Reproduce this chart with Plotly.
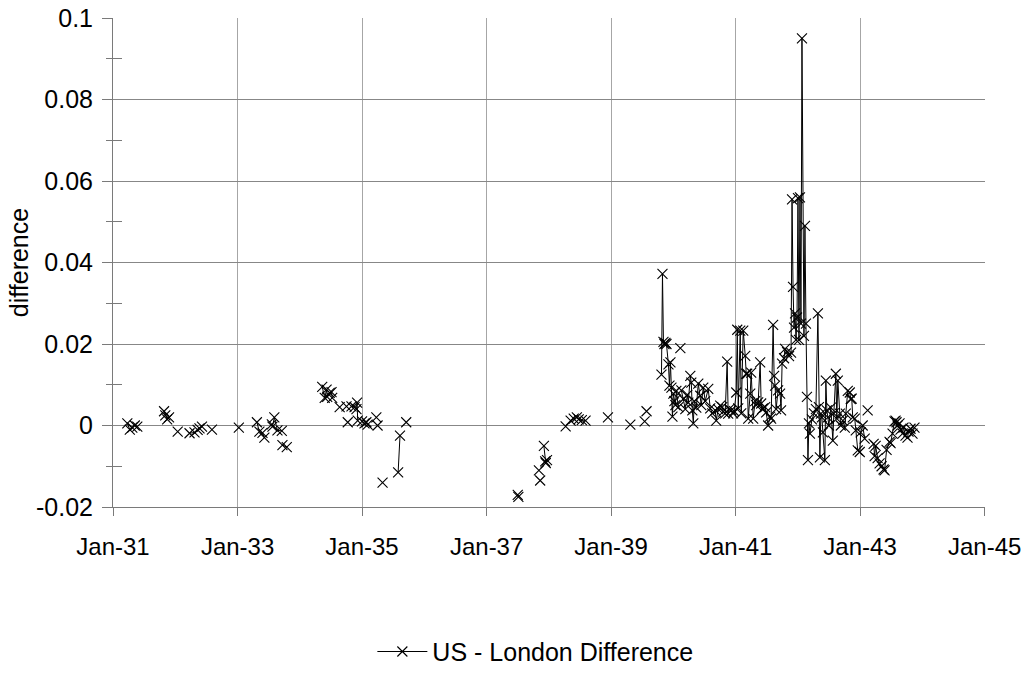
import datetime as dt
import plotly.graph_objects as go

# ---- data (decimal years, difference); None breaks the line ----
early_year = [1931.23, 1931.27, 1931.31, 1931.35, 1931.39, 1931.60,
              1931.82, 1931.84, 1931.87, 1931.90, 1931.97,
              1932.04, 1932.12,
              1932.23, 1932.31, 1932.36, 1932.39, 1932.43, 1932.51,
              1932.59, 1932.80, 1933.02, 1933.15,
              1933.31, 1933.35, 1933.40, 1933.43, 1933.50,
              1933.55, 1933.56, 1933.59, 1933.64, 1933.71, 1933.715,
              1933.72, 1933.79, 1934.00,
              1934.36, 1934.40, 1934.43, 1934.44, 1934.48, 1934.51, 1934.52, 1934.58,
              1934.64, 1934.70, 1934.75, 1934.76, 1934.77, 1934.80,
              1934.83, 1934.88, 1934.91, 1934.92, 1934.93, 1934.96,
              1935.00, 1935.04, 1935.07, 1935.09, 1935.16,
              1935.23, 1935.24, 1935.25, 1935.29, 1935.33, 1935.45,
              1935.58, 1935.61, 1935.66, 1935.71, 1936.50]
early_diff = [0.0005, -0.0010, -0.0005, 0.0000, -0.0003, None,
              0.0035, 0.0025, 0.0015, 0.0020, None,
              -0.0015, None,
              -0.0019, -0.0017, -0.0011, -0.0007, -0.0003, None,
              -0.0010, None, -0.0005, None,
              0.0008, -0.0015, -0.0018, -0.0030, None,
              0.0003, -0.0003, 0.0020, -0.0012, -0.0013, None,
              -0.0048, -0.0053, None,
              0.0095, 0.0068, 0.0088, 0.0070, 0.0080, 0.0082, 0.0068, None,
              0.0045, None, 0.0047, None, 0.0008, None,
              0.0047, 0.0045, 0.0040, 0.0056, 0.0012, None,
              0.0010, 0.0005, 0.0008, 0.0002, None,
              0.0020, None, 0.0000, None, -0.0140, None,
              -0.0115, -0.0025, None, 0.0008, None]

mid_year = [1937.50, 1937.51, 1937.70,
            1937.84, 1937.85, 1937.86, 1937.89,
            1937.92, 1937.94, 1937.95, 1937.97, 1938.10,
            1938.27, 1938.31,
            1938.35, 1938.40, 1938.45, 1938.48, 1938.53, 1938.59, 1938.75,
            1938.95, 1939.10, 1939.31, 1939.45,
            1939.54, 1939.555, 1939.57, 1939.70]
mid_diff = [-0.0170, -0.0175, None,
            -0.0110, None, -0.0135, None,
            -0.0050, -0.0088, -0.0092, -0.0085, None,
            -0.0002, None,
            0.0012, 0.0017, 0.0020, 0.0015, 0.0013, 0.0012, None,
            0.0020, None, 0.0002, None,
            0.0010, None, 0.0035, None]

late_year = [1939.810, 1939.826, 1939.842, 1939.858, 1939.874, 1939.890,
             1939.922, 1939.938, 1939.954, 1939.970, 1939.986, 1940.002,
             1940.018, 1940.034, 1940.050, 1940.082, 1940.098, 1940.114,
             1940.122, 1940.130, 1940.162, 1940.194, 1940.226, 1940.242,
             1940.274, 1940.290, 1940.306, 1940.322, 1940.338, 1940.370,
             1940.402, 1940.434, 1940.450, 1940.482, 1940.514, 1940.562,
             1940.594, 1940.626, 1940.674, 1940.690, 1940.722, 1940.754,
             1940.786, 1940.802, 1940.834, 1940.866, 1940.882, 1940.898,
             1940.930, 1940.962, 1940.978, 1941.010, 1941.026, 1941.042,
             1941.074, 1941.090, 1941.122, 1941.154, 1941.170, 1941.186,
             1941.202, 1941.234, 1941.250, 1941.282, 1941.314, 1941.330,
             1941.362, 1941.394, 1941.410, 1941.426, 1941.442, 1941.474,
             1941.490, 1941.522, 1941.554, 1941.570, 1941.602, 1941.618,
             1941.634, 1941.650, 1941.682, 1941.714, 1941.730, 1941.746,
             1941.778, 1941.794, 1941.826, 1941.858, 1941.890, 1941.906,
             1941.922, 1941.938, 1941.954, 1941.970, 1941.986, 1942.002,
             1942.018, 1942.034, 1942.050, 1942.066, 1942.098, 1942.114,
             1942.130, 1942.146, 1942.162, 1942.178, 1942.194, 1942.226,
             1942.258, 1942.290, 1942.322, 1942.338, 1942.354, 1942.370,
             1942.386, 1942.402, 1942.434, 1942.450, 1942.466, 1942.482,
             1942.498, 1942.530, 1942.562, 1942.578, 1942.610, 1942.626,
             1942.642, 1942.674, 1942.690, 1942.722, 1942.754, 1942.770,
             1942.802, 1942.834, 1942.850, 1942.866, 1942.882, 1942.914,
             1942.930, 1942.962, 1942.994, 1943.010, 1943.042, 1943.074,
             1943.100, 1943.122, 1943.170,
             1943.218, 1943.234, 1943.250, 1943.282, 1943.314, 1943.346,
             1943.378, 1943.394, 1943.426, 1943.474, 1943.490, 1943.522,
             1943.554, 1943.570, 1943.586, 1943.602, 1943.634, 1943.650,
             1943.682, 1943.698, 1943.730, 1943.762, 1943.778, 1943.810,
             1943.842, 1943.874]
late_diff = [0.0125, 0.0372, 0.0205, 0.0200, 0.0203, 0.0200,
             0.0150, 0.0098, 0.0155, 0.0093, 0.0022, 0.0078,
             0.0060, 0.0050, 0.0085, 0.0045, None, 0.0190,
             None, 0.0086, 0.0065, 0.0040, 0.0075, 0.0056,
             0.0122, 0.0105, 0.0037, 0.0005, 0.0060, 0.0044,
             0.0103, 0.0073, 0.0050, 0.0093, 0.0060, 0.0090,
             0.0042, 0.0030, 0.0037, 0.0012, 0.0040, 0.0049,
             0.0045, 0.0034, 0.0030, 0.0157, 0.0029, 0.0040,
             0.0037, 0.0030, 0.0035, 0.0081, 0.0235, 0.0042,
             0.0233, 0.0030, 0.0233, 0.0171, 0.0127, 0.0127,
             0.0017, 0.0078, 0.0130, 0.0017, 0.0060, 0.0050,
             0.0057, 0.0155, 0.0054, 0.0040, 0.0042, 0.0045,
             0.0032, 0.0000, 0.0022, 0.0017, 0.0247, 0.0122,
             0.0098, 0.0040, 0.0086, 0.0078, 0.0037, 0.0152,
             0.0165, 0.0188, 0.0180, 0.0170, 0.0179, 0.0555,
             0.0340, 0.0240, 0.0275, 0.0210, 0.0265, 0.0558,
             0.0210, 0.0560, 0.0250, 0.0950, 0.0220, 0.0490,
             0.0250, 0.0070, -0.0085, 0.0005, -0.0020, 0.0015,
             0.0030, 0.0040, 0.0275, 0.0045, -0.0078, 0.0029,
             0.0020, -0.0017, -0.0085, 0.0110, 0.0037, 0.0020,
             0.0000, 0.0044, -0.0037, 0.0030, 0.0127, 0.0017,
             0.0110, 0.0029, 0.0000, 0.0012, -0.0005, 0.0029,
             0.0085, 0.0081, 0.0065, 0.0066, 0.0020, 0.0017,
             -0.0012, -0.0061, -0.0065, -0.0017, 0.0000, -0.0032,
             None, 0.0037, None,
             -0.0045, -0.0075, -0.0050, -0.0080, -0.0093, -0.0100,
             -0.0108, -0.0110, -0.0060, -0.0040, -0.0043, -0.0020,
             0.0010, 0.0012, 0.0008, 0.0000, 0.0005, -0.0010,
             -0.0020, -0.0005, -0.0025, -0.0030, -0.0015, -0.0008,
             -0.0020, -0.0005]

x_tick_dates = ["1931-01-01", "1933-01-01", "1935-01-01", "1937-01-01",
                "1939-01-01", "1941-01-01", "1943-01-01", "1945-01-01"]
x_tick_labels = ["Jan-31", "Jan-33", "Jan-35", "Jan-37", "Jan-39", "Jan-41", "Jan-43", "Jan-45"]
y_tick_vals = [-0.02, 0, 0.02, 0.04, 0.06, 0.08, 0.1]
y_tick_labels = ["-0.02", "0", "0.02", "0.04", "0.06", "0.08", "0.1"]
y_minor_vals = [-0.01, 0.01, 0.03, 0.05, 0.07, 0.09]
series_name = "US - London Difference"


def to_date(year):
    y = int(year)
    return dt.datetime(y, 1, 1) + dt.timedelta(days=(year - y) * 365.25)


years = early_year + mid_year + late_year
diffs = early_diff + mid_diff + late_diff
dates = [to_date(v) for v in years]

FONT = "Liberation Sans, Arial, sans-serif"
GRID_H = "#878787"
GRID_V = "#a6a6a6"
AXIS = "#7a7a7a"

fig = go.Figure()
fig.add_trace(go.Scatter(
    x=dates, y=diffs, name=series_name, mode="lines+markers",
    connectgaps=False,
    line=dict(color="black", width=1),
    marker=dict(symbol="x-thin", size=10, color="black",
                line=dict(color="black", width=1.1)),
))
# helper trace so the overlaid axis (inside half of the minor ticks) is drawn
fig.add_trace(go.Scatter(x=[to_date(1931)], y=[None], yaxis="y2",
                         showlegend=False, hoverinfo="skip", mode="markers"))

fig.update_layout(
    width=1023, height=674,
    margin=dict(l=113, r=38, t=18, b=167, autoexpand=False),
    paper_bgcolor="white", plot_bgcolor="white",
    font=dict(family=FONT, size=25, color="black"),
    showlegend=True,
    legend=dict(orientation="h", xref="container", yref="container",
                x=0.364, xanchor="left", y=0.033, yanchor="middle",
                itemwidth=50,
                font=dict(size=25, family=FONT)),
    xaxis=dict(
        type="date",
        range=["1931-01-01", "1945-01-03"],
        tickvals=x_tick_dates,
        ticktext=x_tick_labels,
        showgrid=True, gridcolor=GRID_V, gridwidth=1,
        showline=True, linecolor=AXIS, linewidth=1,
        ticks="outside", ticklen=8, tickcolor=AXIS,
        ticklabelstandoff=10, ticklabeloverflow="allow",
        zeroline=False, automargin=False,
        tickfont=dict(size=24, family=FONT),
    ),
    yaxis=dict(
        range=[-0.02, 0.1],
        tickvals=y_tick_vals, ticktext=y_tick_labels,
        showgrid=True, gridcolor=GRID_H, gridwidth=1,
        showline=True, linecolor=AXIS, linewidth=1,
        ticks="outside", ticklen=10, tickcolor=AXIS,
        ticklabelstandoff=4,
        zeroline=False, automargin=False,
        tickfont=dict(size=25, family=FONT),
        minor=dict(tickvals=y_minor_vals, ticks="outside", ticklen=6,
                   tickcolor=AXIS, showgrid=False),
        title=dict(text="difference", font=dict(size=25, family=FONT), standoff=0),
    ),
    yaxis2=dict(
        overlaying="y", side="left", range=[-0.02, 0.1],
        tickvals=y_minor_vals, ticks="inside", ticklen=9, tickcolor=AXIS,
        showticklabels=False, showgrid=False, zeroline=False, showline=False,
        automargin=False,
    ),
)

fig.write_html("out.html")
